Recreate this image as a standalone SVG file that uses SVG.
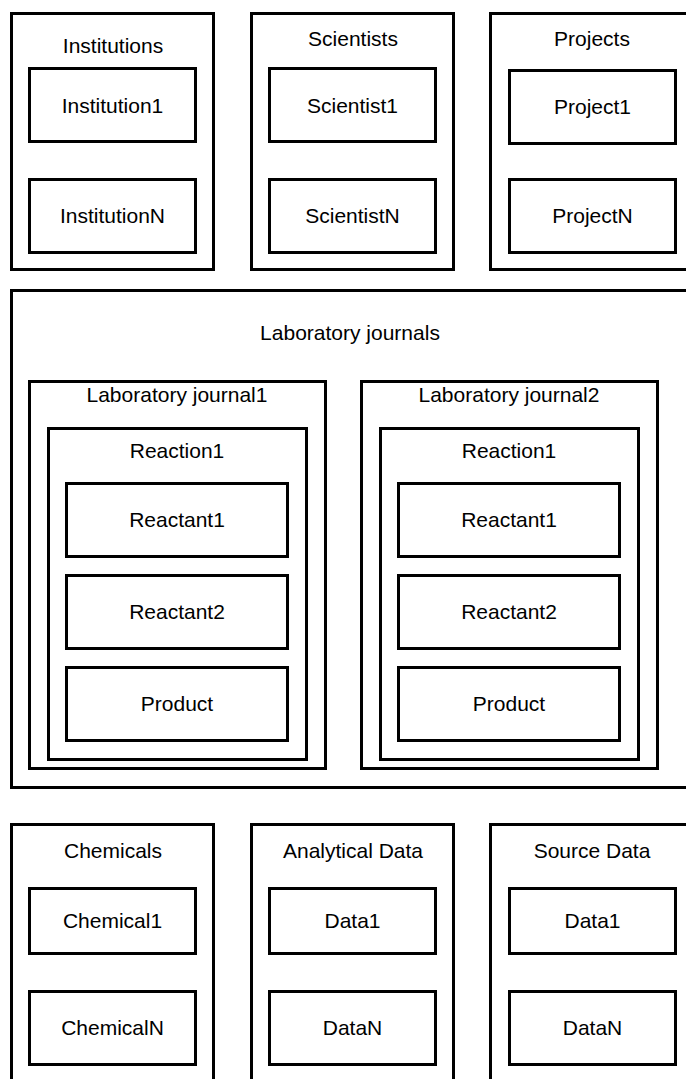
<svg xmlns="http://www.w3.org/2000/svg" width="686" height="1079" viewBox="0 0 686 1079">
<style>
rect{fill:#fff;stroke:#000;stroke-width:3}
text{font-family:"Liberation Sans",Arial,sans-serif;font-size:21px;fill:#000;text-anchor:middle}
</style>
<rect x="0" y="0" width="686" height="1079" style="stroke:none"/>
<g id="institutions">
<rect x="11.5" y="13.5" width="202" height="256"/>
<text x="113" y="53">Institutions</text>
<g id="institution1"><rect x="29.5" y="68.5" width="166" height="73"/><text x="112.5" y="113">Institution1</text></g>
<g id="institutionN"><rect x="29.5" y="179.5" width="166" height="73"/><text x="112.5" y="223">InstitutionN</text></g>
</g>
<g id="scientists">
<rect x="251.5" y="13.5" width="202" height="256"/>
<text x="353" y="46">Scientists</text>
<g id="scientist1"><rect x="269.5" y="68.5" width="166" height="73"/><text x="352.5" y="113">Scientist1</text></g>
<g id="scientistN"><rect x="269.5" y="179.5" width="166" height="73"/><text x="352.5" y="223">ScientistN</text></g>
</g>
<g id="projects">
<rect x="490.5" y="13.5" width="220" height="256"/>
<text x="592" y="46">Projects</text>
<g id="project1"><rect x="509.5" y="70.5" width="166" height="73"/><text x="592.5" y="114">Project1</text></g>
<g id="projectN"><rect x="509.5" y="179.5" width="166" height="73"/><text x="592.5" y="223">ProjectN</text></g>
</g>
<g id="labjournals">
<rect x="11.5" y="290.5" width="700" height="497"/>
<text x="350" y="340">Laboratory journals</text>
<g id="lj1">
<rect x="29.5" y="381.5" width="296" height="387"/>
<text x="177" y="402">Laboratory journal1</text>
<g id="lj1-reaction1">
<rect x="48.5" y="428.5" width="258" height="331"/>
<text x="177" y="458">Reaction1</text>
<g id="lj1-reactant1"><rect x="66.5" y="483.5" width="221" height="73"/><text x="177" y="527">Reactant1</text></g>
<g id="lj1-reactant2"><rect x="66.5" y="575.5" width="221" height="73"/><text x="177" y="619">Reactant2</text></g>
<g id="lj1-product"><rect x="66.5" y="667.5" width="221" height="73"/><text x="177" y="711">Product</text></g>
</g>
</g>
<g id="lj2">
<rect x="361.5" y="381.5" width="296" height="387"/>
<text x="509" y="402">Laboratory journal2</text>
<g id="lj2-reaction1">
<rect x="380.5" y="428.5" width="258" height="331"/>
<text x="509" y="458">Reaction1</text>
<g id="lj2-reactant1"><rect x="398.5" y="483.5" width="221" height="73"/><text x="509" y="527">Reactant1</text></g>
<g id="lj2-reactant2"><rect x="398.5" y="575.5" width="221" height="73"/><text x="509" y="619">Reactant2</text></g>
<g id="lj2-product"><rect x="398.5" y="667.5" width="221" height="73"/><text x="509" y="711">Product</text></g>
</g>
</g>
</g>
<g id="chemicals">
<rect x="11.5" y="824.5" width="202" height="280"/>
<text x="113" y="858">Chemicals</text>
<g id="chemical1"><rect x="29.5" y="888.5" width="166" height="65"/><text x="112.5" y="928">Chemical1</text></g>
<g id="chemicalN"><rect x="29.5" y="991.5" width="166" height="73"/><text x="112.5" y="1035">ChemicalN</text></g>
</g>
<g id="analytical">
<rect x="251.5" y="824.5" width="202" height="280"/>
<text x="353" y="858">Analytical Data</text>
<g id="adata1"><rect x="269.5" y="888.5" width="166" height="65"/><text x="352.5" y="928">Data1</text></g>
<g id="adataN"><rect x="269.5" y="991.5" width="166" height="73"/><text x="352.5" y="1035">DataN</text></g>
</g>
<g id="source">
<rect x="490.5" y="824.5" width="220" height="280"/>
<text x="592" y="858">Source Data</text>
<g id="sdata1"><rect x="509.5" y="888.5" width="166" height="65"/><text x="592.5" y="928">Data1</text></g>
<g id="sdataN"><rect x="509.5" y="991.5" width="166" height="73"/><text x="592.5" y="1035">DataN</text></g>
</g>
<g id="connectors"/>
</svg>
